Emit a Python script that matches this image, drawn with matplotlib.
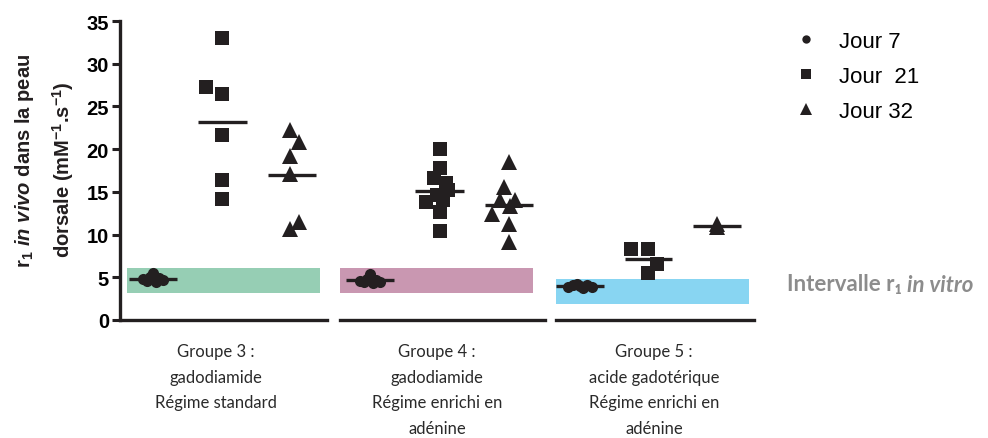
import matplotlib
matplotlib.use("Agg")
import matplotlib.pyplot as plt
from matplotlib.lines import Line2D
import numpy as np

plt.rcParams['mathtext.fontset'] = 'custom'
plt.rcParams['mathtext.rm'] = 'Liberation Sans:bold'
plt.rcParams['mathtext.it'] = 'Liberation Sans:italic:bold'
plt.rcParams['mathtext.bf'] = 'Liberation Sans:bold'

# ---------------- data ----------------
group_labels = ["Groupe 3 :\ngadodiamide\nRégime standard",
                "Groupe 4 :\ngadodiamide\nRégime enrichi en\nadénine",
                "Groupe 5 :\nacide gadotérique\nRégime enrichi en\nadénine"]
series_names = ["Jour 7", "Jour  21", "Jour 32"]

# group 3
g3_j7 = [4.8, 4.6, 5.0, 5.5, 4.5, 4.9, 4.7]
g3_j7_dx = [-0.15, -0.08, -0.04, 0.0, 0.04, 0.08, 0.15]
g3_j21 = [33.0, 27.3, 26.5, 21.7, 16.4, 14.2]
g3_j21_dx = [0.0, -0.24, 0.0, 0.0, 0.0, 0.0]
g3_j32 = [22.2, 20.8, 19.2, 17.1, 11.5, 10.7]
g3_j32_dx = [-0.03, 0.1, -0.03, -0.03, 0.1, -0.03]

# group 4
g4_j7 = [4.6, 4.4, 4.8, 5.4, 4.3, 4.7, 4.5]
g4_j7_dx = [-0.15, -0.08, -0.04, 0.0, 0.04, 0.08, 0.15]
g4_j21 = [20.0, 17.8, 16.6, 16.0, 15.2, 14.6, 14.0, 13.8, 12.6, 10.4]
g4_j21_dx = [0.0, 0.0, -0.08, 0.1, 0.12, -0.04, 0.05, -0.2, 0.0, 0.0]
g4_j32 = [18.5, 15.6, 14.0, 14.0, 13.3, 12.4, 11.2, 9.1]
g4_j32_dx = [0.0, -0.07, -0.13, 0.08, 0.02, -0.25, 0.0, 0.0]

# group 5
g5_j7 = [3.9, 4.1, 4.2, 4.0, 3.8, 4.1, 3.9]
g5_j7_dx = [-0.18, -0.1, -0.04, 0.0, 0.04, 0.1, 0.18]
g5_j21 = [8.3, 8.3, 6.5, 5.5]
g5_j21_dx = [-0.26, 0.0, 0.13, 0.0]
g5_j32 = [11.2, 10.9]
g5_j32_dx = [0.0, 0.0]

# in vitro r1 intervals (low, high)
interval_low = [3.2, 3.2, 1.9]
interval_high = [6.1, 6.1, 4.8]
interval_colors = ["#96CEB4", "#C997B1", "#88D5F2"]

groups = [
    [(g3_j7, g3_j7_dx), (g3_j21, g3_j21_dx), (g3_j32, g3_j32_dx)],
    [(g4_j7, g4_j7_dx), (g4_j21, g4_j21_dx), (g4_j32, g4_j32_dx)],
    [(g5_j7, g5_j7_dx), (g5_j21, g5_j21_dx), (g5_j32, g5_j32_dx)],
]

markers = ["o", "s", "^"]
msizes = [8, 10, 11]
ink = "#231F20"

# ---------------- layout ----------------
W, H = 988, 439
fig = plt.figure(figsize=(W / 100, H / 100), dpi=100)

ax_px = [(120, 327), (340, 545), (556, 754)]
xlims = [(-0.475, 2.504), (-0.432, 2.518), (-0.35, 2.54)]
span_x = [(0.034, 0.966), (0.0, 0.941), (0.0, 0.975)]
y_top, y_bot = 22, 321

axes = []
for i, (l, r) in enumerate(ax_px):
    ax = fig.add_axes([l / W, (H - y_bot) / H, (r - l) / W, (y_bot - y_top) / H])
    ax.set_xlim(*xlims[i])
    ax.set_ylim(0, 35)
    for s in ["top", "right"]:
        ax.spines[s].set_visible(False)
    ax.spines["bottom"].set_linewidth(2.4)
    ax.spines["bottom"].set_color(ink)
    ax.set_xticks([])
    if i == 0:
        ax.spines["left"].set_linewidth(2.4)
        ax.spines["left"].set_color(ink)
        ax.set_yticks(np.arange(0, 36, 5))
        ax.tick_params(axis="y", length=6, width=2.2, color=ink, pad=2,
                       labelsize=14.5)
        for lab in ax.get_yticklabels():
            lab.set_fontweight("bold")
            lab.set_fontfamily("Liberation Sans")
    else:
        ax.spines["left"].set_visible(False)
        ax.set_yticks([])
    ax.patch.set_alpha(0)

    ax.axhspan(interval_low[i], interval_high[i], xmin=span_x[i][0],
               xmax=span_x[i][1], color=interval_colors[i], lw=0, zorder=1)

    for j, (vals, dx) in enumerate(groups[i]):
        xs = j + np.array(dx)
        ax.plot(xs, vals, linestyle="none", marker=markers[j],
                markersize=msizes[j], color=ink, markeredgewidth=0, zorder=3,
                clip_on=False)
        m = np.mean(vals)
        ax.plot([j - 0.35, j + 0.35], [m, m], color=ink, lw=2.4, zorder=4,
                solid_capstyle="butt")
    axes.append(ax)

# y label (two lines)
fig.text(25 / W, 1 - 161 / H, r"r$_1$ $\mathit{in\ vivo}$ dans la peau",
         rotation=90, ha="center", va="center", fontsize=14.5,
         fontweight="bold", family="Liberation Sans", color=ink,
         rotation_mode="anchor")
fig.text(63 / W, 1 - 170 / H, r"dorsale (mM$^{-1}$.s$^{-1}$)",
         rotation=90, ha="center", va="center", fontsize=14.5,
         fontweight="bold", family="Liberation Sans", color=ink,
         rotation_mode="anchor")

# group labels
label_cx = [216, 437, 654]
for cx, lab in zip(label_cx, group_labels):
    fig.text(cx / W, 1 - 344 / H, lab, ha="center", va="top",
             multialignment="center", fontsize=12, family="Lato",
             color="#2a2a2a", linespacing=1.75)

# in vitro interval label
t1 = fig.text(787 / W, 1 - 285 / H, "Intervalle r\u2081 ", ha="left",
              va="center", fontsize=16, family="Lato", fontweight="bold",
              color="#8C8C8C")
axes[2].annotate("in vitro", xy=(1, 0), xycoords=t1, ha="left",
                 va="bottom", fontsize=16, family="Lato",
                 fontweight="bold", style="italic", color="#8C8C8C",
                 annotation_clip=False)

# legend
handles = [Line2D([], [], linestyle="none", marker=markers[k], color=ink,
                  markersize=[6, 7, 8][k], markeredgewidth=0)
           for k in range(3)]
fig.legend(handles, series_names, loc="upper left",
           bbox_to_anchor=(795 / W, 1 - 32 / H), frameon=False,
           handlelength=1.0, handletextpad=1.0, labelspacing=0.62,
           prop={"family": "Liberation Sans", "size": 16}, borderaxespad=0,
           borderpad=0)

fig.savefig("out.png", dpi=100)
